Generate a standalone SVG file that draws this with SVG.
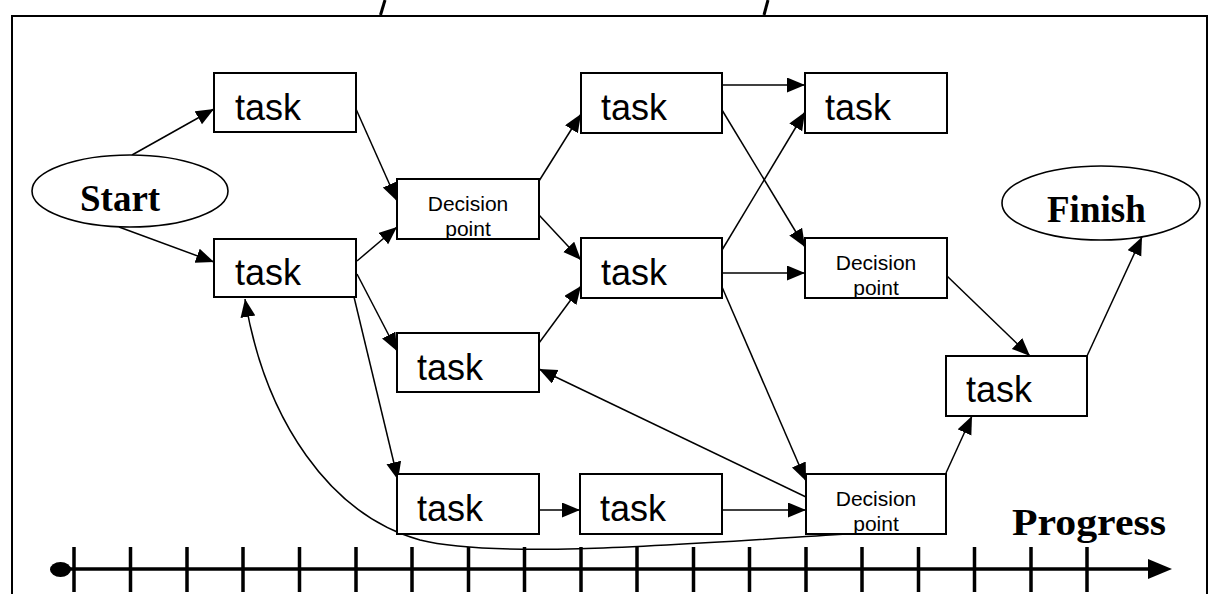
<svg xmlns="http://www.w3.org/2000/svg" width="1215" height="594" viewBox="0 0 1215 594">
  <style>
    .box { fill: #fff; stroke: #000; stroke-width: 2; }
    .oval { fill: #fff; stroke: #000; stroke-width: 1.6; }
    .task { font-family: "Liberation Sans", Arial, sans-serif; font-size: 36px; fill: #000; }
    .dp { font-family: "Liberation Sans", Arial, sans-serif; font-size: 21px; fill: #000; text-anchor: middle; }
    .big { font-family: "Liberation Serif", "Times New Roman", serif; font-weight: bold; font-size: 37px; fill: #000; }
    .edge { fill: none; stroke: #000; stroke-width: 1.5; marker-end: url(#arrow); }
    .axis { stroke: #000; stroke-width: 3.5; }
  </style>
  <defs>
    <marker id="arrow" markerUnits="userSpaceOnUse" markerWidth="19" markerHeight="16" refX="18" refY="7.5" orient="auto">
      <path d="M0,0 L18,7.5 L0,15 z" fill="#000"/>
    </marker>
  </defs>

  <rect width="1215" height="594" fill="#fff"/>

  <!-- outer frame, open at the bottom -->
  <path d="M12,600 L12,16 L1207,16 L1207,600" fill="none" stroke="#000" stroke-width="2"/>
  <!-- clipped strokes above the frame -->
  <line x1="385" y1="0" x2="380.5" y2="15" stroke="#000" stroke-width="3"/>
  <line x1="768" y1="0" x2="764" y2="15" stroke="#000" stroke-width="3"/>

  <!-- connectors -->
  <g id="connectors">
    <line class="edge" x1="132" y1="155" x2="214" y2="109"/>
    <line class="edge" x1="119" y1="227" x2="214" y2="262"/>
    <line class="edge" x1="356" y1="109" x2="397" y2="201"/>
    <line class="edge" x1="357" y1="261" x2="397" y2="227"/>
    <line class="edge" x1="357" y1="274" x2="397" y2="351"/>
    <line class="edge" x1="354" y1="297" x2="398" y2="480"/>
    <line class="edge" x1="539" y1="181" x2="581" y2="114"/>
    <line class="edge" x1="539" y1="215" x2="581" y2="260"/>
    <line class="edge" x1="539" y1="343" x2="581" y2="286"/>
    <line class="edge" x1="722" y1="85" x2="805" y2="85"/>
    <line class="edge" x1="722" y1="110" x2="805" y2="247"/>
    <line class="edge" x1="722" y1="250" x2="805" y2="112"/>
    <line class="edge" x1="722" y1="273" x2="805" y2="273"/>
    <line class="edge" x1="722" y1="287" x2="806" y2="481"/>
    <line class="edge" x1="806" y1="497" x2="539" y2="369"/>
    <line class="edge" x1="539" y1="510" x2="580" y2="510"/>
    <line class="edge" x1="722" y1="510" x2="806" y2="510"/>
    <line class="edge" x1="947" y1="276" x2="1030" y2="356"/>
    <line class="edge" x1="1087" y1="356" x2="1142" y2="237"/>
    <line class="edge" x1="946" y1="473" x2="972" y2="416"/>
    <path class="edge" d="M862,533 C700,543 500,560 420,540 C330,515 265,420 245,299"/>
  </g>

  <!-- nodes -->
  <g id="start">
    <ellipse class="oval" cx="130" cy="191" rx="98" ry="36"/>
    <text class="big" x="80" y="211">Start</text>
  </g>
  <g id="finish">
    <ellipse class="oval" cx="1101" cy="203" rx="99" ry="37"/>
    <text class="big" x="1047" y="222">Finish</text>
  </g>
  <g id="task1">
    <rect class="box" x="214" y="73" width="142" height="59"/>
    <text class="task" x="235" y="120">task</text>
  </g>
  <g id="task2">
    <rect class="box" x="214" y="239" width="142" height="58"/>
    <text class="task" x="235" y="285">task</text>
  </g>
  <g id="decision1">
    <rect class="box" x="397" y="179" width="142" height="60"/>
    <text class="dp" x="468" y="211">Decision</text>
    <text class="dp" x="468" y="236">point</text>
  </g>
  <g id="task3">
    <rect class="box" x="581" y="73" width="141" height="60"/>
    <text class="task" x="601" y="120">task</text>
  </g>
  <g id="task4">
    <rect class="box" x="805" y="73" width="142" height="60"/>
    <text class="task" x="825" y="120">task</text>
  </g>
  <g id="task5">
    <rect class="box" x="581" y="238" width="141" height="60"/>
    <text class="task" x="601" y="285">task</text>
  </g>
  <g id="decision2">
    <rect class="box" x="805" y="238" width="142" height="60"/>
    <text class="dp" x="876" y="270">Decision</text>
    <text class="dp" x="876" y="295">point</text>
  </g>
  <g id="task6">
    <rect class="box" x="397" y="333" width="142" height="59"/>
    <text class="task" x="417" y="380">task</text>
  </g>
  <g id="task7">
    <rect class="box" x="946" y="356" width="141" height="60"/>
    <text class="task" x="966" y="402">task</text>
  </g>
  <g id="task8">
    <rect class="box" x="397" y="474" width="142" height="60"/>
    <text class="task" x="417" y="521">task</text>
  </g>
  <g id="task9">
    <rect class="box" x="580" y="474" width="142" height="60"/>
    <text class="task" x="600" y="521">task</text>
  </g>
  <g id="decision3">
    <rect class="box" x="806" y="474" width="140" height="60"/>
    <text class="dp" x="876" y="506">Decision</text>
    <text class="dp" x="876" y="531">point</text>
  </g>

  <!-- progress axis -->
  <g id="progress">
    <text class="big" x="1012" y="535" textLength="154" lengthAdjust="spacingAndGlyphs">Progress</text>
    <line class="axis" x1="60" y1="569" x2="1150" y2="569"/>
    <path d="M1148,559 L1172,569 L1148,579 z" fill="#000"/>
    <ellipse cx="60.5" cy="569.5" rx="10.5" ry="7.5" fill="#000"/>
    <path class="axis" d="M74,547V592 M130.5,547V592 M187,547V592 M243,547V592 M299.5,547V592 M356,547V592 M412,547V592 M468.5,547V592 M524.5,547V592 M581,547V592 M637,547V592 M693.5,547V592 M749.5,547V592 M806,547V592 M862,547V592 M918.5,547V592 M974.5,547V592 M1031,547V592 M1087,547V592"/>
  </g>
</svg>
